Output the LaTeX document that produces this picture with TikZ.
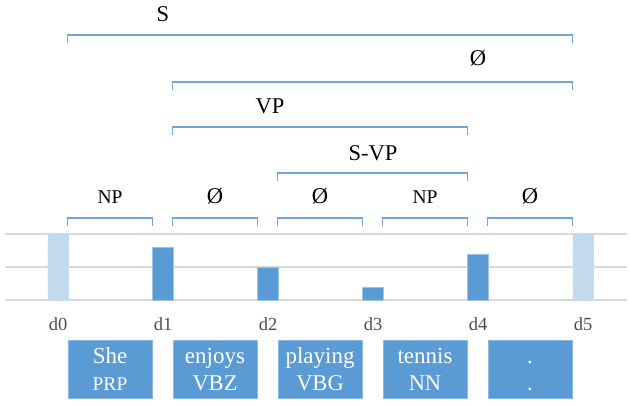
\documentclass[tikz,border=0pt]{standalone}
\usepackage{fontspec}
\setmainfont{Liberation Serif}
\usepackage{tikz}
\usetikzlibrary{positioning}
\usetikzlibrary{patterns}
\definecolor{barblue}{HTML}{5B9BD5}
\definecolor{brkblue}{HTML}{6FA7DC}
\definecolor{gridgray}{HTML}{D9D9D9}
\newcommand{\tagsmall}{\fontsize{19.5}{22}\selectfont}

\begin{document}
\begin{tikzpicture}
          [x=1pt, y=-1pt,
           every node/.style={inner sep=0pt},
           grid/.style={draw=gridgray, line width=1.5pt},
           bar/.style={fill=barblue, draw=barblue!60!white, line width=0.6pt},
           edgebar/.style={preaction={fill=barblue!30}, pattern=north east lines, pattern color=barblue!50},
           brk/.style={draw=brkblue, line width=1.2pt},
           dlab/.style={anchor=base, text=black!70, font=\fontsize{18.5}{22}\selectfont},
           plab/.style={anchor=base, font=\fontsize{22.5}{26}\selectfont},
           word/.style={fill=barblue, draw=barblue!70!white, line width=0.5pt, minimum width=84pt, minimum height=58pt},
           wtop/.style={anchor=base, yshift=6pt, text=white, font=\fontsize{23}{26}\selectfont},
           wbot/.style={anchor=base, yshift=-21pt, text=white, font=\fontsize{22.5}{26}\selectfont}]
          \useasboundingbox (0,0) rectangle (630,405);

          \foreach \y in {234,267,300}
            \draw[grid] (5,\y) -- (627,\y);

          \fill[edgebar] (47.5,300) rectangle (68.5,234);
          \fill[edgebar] (572.5,300) rectangle (593.5,234);
          \foreach \i/\t in {1/247, 2/267, 3/287, 4/254}
            \draw[bar] (47.5+105*\i,300) rectangle (68.5+105*\i,\t);

          \foreach \i in {0,...,5}
            \node[dlab] (d\i) at (58+105*\i,330.7) {d\i};

          \foreach \a/\b [count=\i] in {She/{\tagsmall PRP}, enjoys/VBZ, playing/VBG, tennis/NN, ./.} {
            \node[word] (w\i) at (5+105*\i,369.5) {};
            \node[wtop] (top\i) at (w\i.center) {\a};
            \node[wbot] (bot\i) at (w\i.center) {\b};
          }

          \foreach \i/\l in {1/{\tagsmall NP}, 2/Ø, 3/Ø, 4/{\tagsmall NP}, 5/Ø} {
            \draw[brk] (w\i.west |- 0,225.5) -- (w\i.west |- 0,218) -- (w\i.east |- 0,218) -- (w\i.east |- 0,225.5);
            \node[plab] (p\i) at (w\i.center |- 0,203.3) {\l};
          }

          \draw[brk] (w3.west |- 0,180.5) -- (w3.west |- 0,173) -- (w4.east |- 0,173) -- (w4.east |- 0,180.5);
          \node[plab] (svp) at (d3 |- 0,160.7) {S-VP};

          \draw[brk] (w2.west |- 0,134.5) -- (w2.west |- 0,127) -- (w4.east |- 0,127) -- (w4.east |- 0,134.5);
          \node[plab] (vp) at (270,113) {VP};

          \draw[brk] (w2.west |- 0,89.5) -- (w2.west |- 0,82) -- (w5.east |- 0,82) -- (w5.east |- 0,89.5);
          \node[plab] (empty) at (d4 |- 0,65.5) {Ø};

          \draw[brk] (w1.west |- 0,42.5) -- (w1.west |- 0,35) -- (w5.east |- 0,35) -- (w5.east |- 0,42.5);
          \node[plab] (s) at (d1 |- 0,21.7) {S};
        \end{tikzpicture}
\end{document}
